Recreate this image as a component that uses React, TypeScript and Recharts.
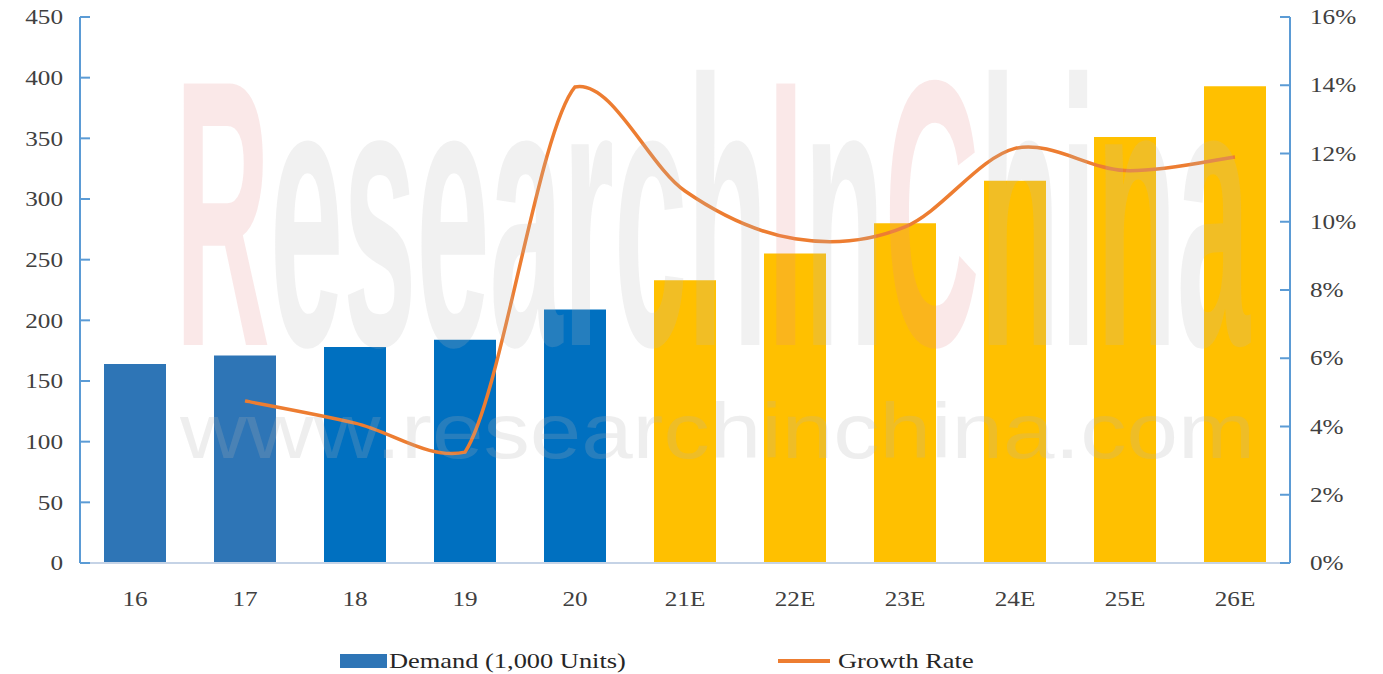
import React from 'react';
import { ComposedChart, Bar, Line, XAxis, YAxis, Cell, Legend } from 'recharts';

const categories = ['16', '17', '18', '19', '20', '21E', '22E', '23E', '24E', '25E', '26E'];
const demand = [164, 171, 178, 184, 209, 233, 255, 280, 315, 351, 393];
const growth: (number | null)[] = [null, 4.75, 4.1, 3.25, 13.95, 10.9, 9.5, 9.85, 12.15, 11.5, 11.9];
const leftTicks = [0, 50, 100, 150, 200, 250, 300, 350, 400, 450];
const rightTicks = [0, 2, 4, 6, 8, 10, 12, 14, 16];

const barColors = ['#2e75b6', '#2e75b6', '#0070c0', '#0070c0', '#0070c0', '#ffc000', '#ffc000', '#ffc000', '#ffc000', '#ffc000', '#ffc000'];

const data = categories.map((c, i) => ({ name: c, demand: demand[i], growth: growth[i] }));

const AXIS = '#5b9bd5';
const TXT = '#404040';
const FONT = '"Liberation Serif", "Times New Roman", serif';
const SX = 1.2;

// Excel-like smoothed line: Catmull-Rom control points with limited overshoot
function smoothCurve(context: any) {
  let pts: number[][] = [];
  const M = 8;
  const clamp = (v: number, a: number, b: number) =>
    Math.max(Math.min(a, b) - M, Math.min(Math.max(a, b) + M, v));
  return {
    areaStart() {},
    areaEnd() {},
    lineStart() { pts = []; },
    point(x: number, y: number) { pts.push([+x, +y]); },
    lineEnd() {
      if (!pts.length) return;
      context.moveTo(pts[0][0], pts[0][1]);
      for (let i = 0; i < pts.length - 1; i++) {
        const p0 = pts[i - 1] || pts[i];
        const p1 = pts[i];
        const p2 = pts[i + 1];
        const p3 = pts[i + 2] || p2;
        const c1x = p1[0] + (p2[0] - p0[0]) / 6;
        const c1y = clamp(p1[1] + (p2[1] - p0[1]) / 6, p1[1], p2[1]);
        const c2x = p2[0] - (p3[0] - p1[0]) / 6;
        const c2y = clamp(p2[1] - (p3[1] - p1[1]) / 6, p1[1], p2[1]);
        context.bezierCurveTo(c1x, c1y, c2x, c2y, p2[0], p2[1]);
      }
    },
  };
}

const StretchText = ({ x, y, anchor, children }: any) => (
  <text
    transform={`translate(${x},${y}) scale(${SX},1)`}
    x={0}
    y={0}
    textAnchor={anchor}
    dominantBaseline="central"
    fontFamily={FONT}
    fontSize={21}
    fill={TXT}
  >
    {children}
  </text>
);

const LeftTick = (props: any) => {
  const { x, y, payload } = props;
  return (
    <g>
      <line x1={x} x2={x + 10} y1={y} y2={y} stroke={AXIS} strokeWidth={2} />
      <StretchText x={x - 17} y={y} anchor="end">{payload.value}</StretchText>
    </g>
  );
};

const RightTick = (props: any) => {
  const { x, y, payload } = props;
  return (
    <g>
      <line x1={x} x2={x - 10} y1={y} y2={y} stroke={AXIS} strokeWidth={2} />
      <StretchText x={x + 20} y={y} anchor="start">{`${payload.value}%`}</StretchText>
    </g>
  );
};

const BottomTick = (props: any) => {
  const { x, y, payload } = props;
  return <StretchText x={x} y={y + 28} anchor="middle">{payload.value}</StretchText>;
};

const LegendContent = () => (
  <div style={{ position: 'relative', width: 1367, height: 30, fontFamily: FONT, fontSize: 22, color: '#262626' }}>
    <div style={{ position: 'absolute', left: 332, top: 6, width: 47, height: 14, background: '#2e75b6' }} />
    <div style={{ position: 'absolute', left: 381, top: 0, lineHeight: '26px', whiteSpace: 'nowrap', transform: `scaleX(${SX})`, transformOrigin: 'left center' }}>Demand (1,000 Units)</div>
    <div style={{ position: 'absolute', left: 770, top: 11, width: 52, height: 4, background: '#ed7d31' }} />
    <div style={{ position: 'absolute', left: 830, top: 0, lineHeight: '26px', whiteSpace: 'nowrap', transform: `scaleX(${SX})`, transformOrigin: 'left center' }}>Growth Rate</div>
  </div>
);

export default function App() {
  return (
    <div style={{ position: 'relative', width: 1367, height: 666, background: '#fff' }}>
      <ComposedChart
        width={1367}
        height={666}
        data={data}
        margin={{ top: 9, right: 15, left: 12, bottom: 51 }}
      >
        <XAxis
          dataKey="name"
          height={60}
          tickLine={false}
          axisLine={{ stroke: '#c5d3e6', strokeWidth: 2 }}
          tick={<BottomTick />}
          interval={0}
        />
        <YAxis
          yAxisId="left"
          orientation="left"
          width={60}
          domain={[0, 450]}
          ticks={leftTicks}
          tickLine={false}
          tickSize={0}
          tickMargin={0}
          axisLine={{ stroke: AXIS, strokeWidth: 2 }}
          tick={<LeftTick />}
          interval={0}
        />
        <YAxis
          yAxisId="right"
          orientation="right"
          width={70}
          domain={[0, 16]}
          ticks={rightTicks}
          tickLine={false}
          tickSize={0}
          tickMargin={0}
          axisLine={{ stroke: AXIS, strokeWidth: 2 }}
          tick={<RightTick />}
          interval={0}
        />
        <Legend
          layout="horizontal"
          verticalAlign="middle"
          align="center"
          wrapperStyle={{ top: 640, left: 0, width: 1367 }}
          content={<LegendContent />}
        />
        <Bar yAxisId="left" dataKey="demand" barSize={62} isAnimationActive={false}>
          {data.map((d, i) => (
            <Cell key={d.name} fill={barColors[i]} />
          ))}
        </Bar>
        <Line
          yAxisId="right"
          dataKey="growth"
          type={smoothCurve as any}
          stroke="#ed7d31"
          strokeWidth={3.5}
          dot={false}
          activeDot={false}
          isAnimationActive={false}
        />
      </ComposedChart>
      <svg
        width={1367}
        height={666}
        style={{ position: 'absolute', left: 0, top: 0, pointerEvents: 'none' }}
      >
        <text
          x={167}
          y={337}
          textLength={1075}
          lengthAdjust="spacingAndGlyphs"
          fontFamily='"Liberation Sans", Arial, sans-serif'
          fontWeight="bold"
          fontSize={380}
          fillOpacity={0.2}
          fill="#b8b8b8"
        >
          <tspan fill="#e58a8a">R</tspan>esearch<tspan fill="#e58a8a">I</tspan>n<tspan fill="#e58a8a">C</tspan>hina
        </text>
        <text
          x={172}
          y={450}
          textLength={1075}
          lengthAdjust="spacingAndGlyphs"
          fontFamily='"Liberation Sans", Arial, sans-serif'
          fontSize={78}
          fillOpacity={0.22}
          fill="#b0b0b0"
        >
          www.researchinchina.com
        </text>
      </svg>
    </div>
  );
}
